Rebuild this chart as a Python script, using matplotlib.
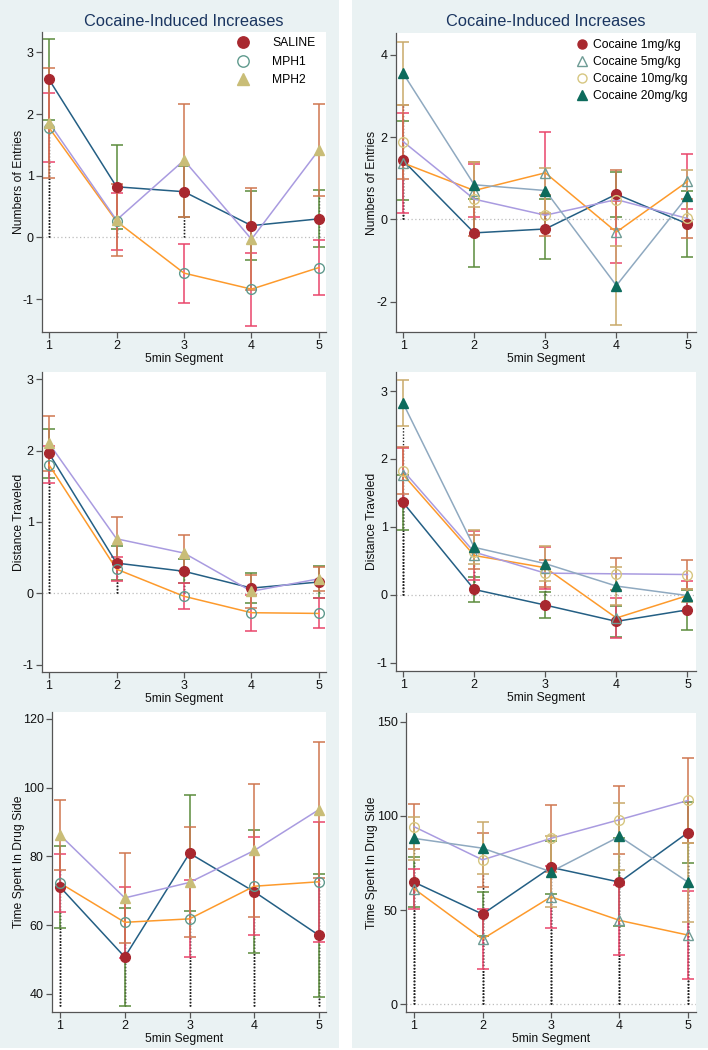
import matplotlib
matplotlib.use("Agg")
import matplotlib.pyplot as plt
from matplotlib.lines import Line2D
from matplotlib.patches import Rectangle

plt.rcParams["font.family"] = ["Liberation Sans", "DejaVu Sans"]
plt.rcParams["axes.unicode_minus"] = False

# ---------------- data ----------------
segments = [1, 2, 3, 4, 5]

# left column: SALINE / MPH1 / MPH2  (mean, half width of error bar)
entries_saline = [2.56, 0.82, 0.74, 0.19, 0.30]
entries_saline_ci = [0.65, 0.68, 0.41, 0.56, 0.46]
entries_mph1 = [1.78, 0.26, -0.58, -0.84, -0.49]
entries_mph1_ci = [0.56, 0.46, 0.48, 0.59, 0.45]
entries_mph2 = [1.86, 0.28, 1.25, -0.03, 1.42]
entries_mph2_ci = [0.89, 0.58, 0.92, 0.83, 0.75]

distance_saline = [1.96, 0.425, 0.31, 0.075, 0.16]
distance_saline_ci = [0.34, 0.24, 0.17, 0.215, 0.22]
distance_mph1 = [1.80, 0.34, -0.04, -0.27, -0.28]
distance_mph1_ci = [0.26, 0.17, 0.18, 0.25, 0.21]
distance_mph2 = [2.10, 0.765, 0.565, 0.03, 0.205]
distance_mph2_ci = [0.39, 0.31, 0.25, 0.23, 0.17]

time_saline = [71.1, 50.7, 80.9, 69.7, 57.0]
time_saline_ci = [12.0, 14.2, 16.9, 17.9, 18.0]
time_mph1 = [72.2, 60.8, 61.8, 71.3, 72.6]
time_mph1_ci = [8.4, 10.4, 11.2, 14.3, 17.5]
time_mph2 = [86.2, 67.9, 72.4, 81.7, 93.6]
time_mph2_ci = [10.2, 13.1, 16.0, 19.4, 19.8]

# right column: cocaine doses
entries_c1 = [1.43, -0.33, -0.235, 0.61, -0.11]
entries_c1_ci = [0.95, 0.82, 0.72, 0.55, 0.81]
entries_c5 = [1.37, 0.70, 1.13, -0.31, 0.92]
entries_c5_ci = [1.21, 0.65, 0.99, 0.75, 0.67]
entries_c10 = [1.89, 0.49, 0.10, 0.48, 0.02]
entries_c10_ci = [0.90, 0.90, 0.50, 0.72, 0.47]
entries_c20 = [3.55, 0.84, 0.70, -1.61, 0.56]
entries_c20_ci = [0.77, 0.55, 0.55, 0.95, 0.63]

distance_c1 = [1.36, 0.08, -0.15, -0.39, -0.22]
distance_c1_ci = [0.40, 0.19, 0.19, 0.23, 0.29]
distance_c5 = [1.77, 0.58, 0.40, -0.34, -0.01]
distance_c5_ci = [0.39, 0.36, 0.31, 0.29, 0.22]
distance_c10 = [1.83, 0.63, 0.32, 0.31, 0.30]
distance_c10_ci = [0.34, 0.25, 0.20, 0.24, 0.21]
distance_c20 = [2.82, 0.70, 0.46, 0.13, -0.01]
distance_c20_ci = [0.34, 0.25, 0.26, 0.28, 0.10]

time_c1 = [64.9, 47.9, 72.7, 64.9, 91.2]
time_c1_ci = [13.4, 11.7, 14.0, 23.5, 16.2]
time_c5 = [61.4, 34.7, 57.1, 44.6, 36.8]
time_c5_ci = [10.6, 15.8, 16.6, 18.6, 23.2]
time_c10 = [94.3, 76.7, 88.1, 98.0, 108.2]
time_c10_ci = [12.0, 14.5, 17.9, 18.0, 22.5]
time_c20 = [88.1, 82.9, 70.4, 89.1, 64.9]
time_c20_ci = [11.5, 13.7, 18.7, 17.9, 20.9]

left_labels = ["SALINE", "MPH1", "MPH2"]
right_labels = ["Cocaine 1mg/kg", "Cocaine 5mg/kg", "Cocaine 10mg/kg", "Cocaine 20mg/kg"]
drop_base_left = [0, 0, 36.5]
drop_base_right = [0, 0, 0]

# ---------------- styles ----------------
BG = "#eaf2f3"
TITLE_C = "#1a3560"
AX_C = "#555555"
line_colors = ["#245f84", "#fd9a2c", "#a99be0", "#8fa9c0"]
err_colors = ["#5b8b3c", "#e9456b", "#cf7650", "#c9a96a"]
left_markers = [
    dict(marker="o", ms=7, mfc="#a8282f", mec="#a8282f"),
    dict(marker="o", ms=7, mfc="none", mec="#5f9a8d", mew=1.0),
    dict(marker="^", ms=7.5, mfc="#c9bd77", mec="#c9bd77"),
]
right_markers = [
    dict(marker="o", ms=7, mfc="#a8282f", mec="#a8282f"),
    dict(marker="^", ms=7.5, mfc="none", mec="#6e9c95", mew=1.0),
    dict(marker="o", ms=7, mfc="none", mec="#d6c680", mew=1.0),
    dict(marker="^", ms=7.5, mfc="#0d6b5c", mec="#0d6b5c"),
]

W, H = 708, 1050
fig = plt.figure(figsize=(W / 100, H / 100), dpi=100, facecolor="white")
fig.patches.append(Rectangle((0, 2 / H), 339 / W, 1 - 2 / H, transform=fig.transFigure,
                             facecolor=BG, edgecolor="none", zorder=-10))
fig.patches.append(Rectangle((352 / W, 2 / H), 356 / W, 1 - 2 / H, transform=fig.transFigure,
                             facecolor=BG, edgecolor="none", zorder=-10))


def px_axes(x0, y0, x1, y1):
    return fig.add_axes([x0 / W, 1 - y1 / H, (x1 - x0) / W, (y1 - y0) / H])


def draw_panel(ax, groups, markers, base, xlim, ylim, yticks):
    ax.set_facecolor("white")
    ax.axhline(0, color="#bdbdbd", lw=0.9, ls=(0, (1, 2)), zorder=1)
    # black dotted spikes from the base up to each lower error limit
    for i, (mean, ci) in enumerate(groups):
        lower = [m - c for m, c in zip(mean, ci)]
        for x, lo in zip(segments, lower):
            if lo > base:
                ax.vlines(x, base, lo, colors="#222222", linestyles=(0, (1, 1.3)), lw=1.0, zorder=2)
    for i, (mean, ci) in enumerate(groups):
        ax.errorbar(segments, mean, yerr=ci, fmt="none", ecolor=err_colors[i],
                    elinewidth=1.1, capsize=4.5, capthick=1.1, zorder=3)
    for i, (mean, ci) in enumerate(groups):
        ax.plot(segments, mean, color=line_colors[i], lw=1.1, zorder=4)
    for i, (mean, ci) in enumerate(groups):
        ax.plot(segments, mean, ls="none", zorder=5, **markers[i])
    ax.set_xlim(*xlim)
    ax.set_ylim(*ylim)
    ax.set_xticks(segments)
    ax.set_yticks(yticks)
    for s in ["top", "right"]:
        ax.spines[s].set_visible(False)
    for s in ["left", "bottom"]:
        ax.spines[s].set_color(AX_C)
        ax.spines[s].set_linewidth(0.9)
    ax.tick_params(direction="out", length=4, width=0.9, color=AX_C,
                   labelsize=9, pad=2, labelcolor="#111111")


left_panels = [
    ([(entries_saline, entries_saline_ci), (entries_mph1, entries_mph1_ci), (entries_mph2, entries_mph2_ci)],
     (42, 32, 326, 332), (0.896, 5.104), (-1.535, 3.33), [-1, 0, 1, 2, 3], "Numbers of Entries", 184),
    ([(distance_saline, distance_saline_ci), (distance_mph1, distance_mph1_ci), (distance_mph2, distance_mph2_ci)],
     (42, 372, 326, 672), (0.896, 5.104), (-1.10, 3.10), [-1, 0, 1, 2, 3], "Distance Traveled", 184),
    ([(time_saline, time_saline_ci), (time_mph1, time_mph1_ci), (time_mph2, time_mph2_ci)],
     (52, 712, 326, 1012), (0.876, 5.108), (34.7, 122.0), [40, 60, 80, 100, 120], "Time Spent In Drug Side", 184),
]
right_panels = [
    ([(entries_c1, entries_c1_ci), (entries_c5, entries_c5_ci), (entries_c10, entries_c10_ci), (entries_c20, entries_c20_ci)],
     (396, 33, 696, 332), (0.90, 5.12), (-2.74, 4.53), [-2, 0, 2, 4], "Numbers of Entries", 546),
    ([(distance_c1, distance_c1_ci), (distance_c5, distance_c5_ci), (distance_c10, distance_c10_ci), (distance_c20, distance_c20_ci)],
     (396, 372, 696, 671), (0.90, 5.12), (-1.12, 3.28), [-1, 0, 1, 2, 3], "Distance Traveled", 546),
    ([(time_c1, time_c1_ci), (time_c5, time_c5_ci), (time_c10, time_c10_ci), (time_c20, time_c20_ci)],
     (406, 713, 696, 1012), (0.883, 5.117), (-4.0, 154.6), [0, 50, 100, 150], "Time Spent In Drug Side", 551),
]

axes = []
for col, (panels, markers, bases, ylab_x) in enumerate([(left_panels, left_markers, drop_base_left, 19.5),
                                                         (right_panels, right_markers, drop_base_right, 372)]):
    for row, (groups, box, xlim, ylim, yticks, ylabel, xlab_x) in enumerate(panels):
        ax = px_axes(*box)
        draw_panel(ax, groups, markers, bases[row], xlim, ylim, yticks)
        fig.text(ylab_x / W, 1 - (box[1] + box[3]) / 2 / H, ylabel, rotation=90,
                 ha="center", va="center", fontsize=8.7, color="#111111")
        fig.text(xlab_x / W, 1 - (box[3] + 27) / H, "5min Segment",
                 ha="center", va="center", fontsize=8.7, color="#111111")
        axes.append(ax)

fig.text(184 / W, 1 - 21 / H, "Cocaine-Induced Increases", ha="center", va="center",
         fontsize=11.8, color=TITLE_C)
fig.text(546 / W, 1 - 22 / H, "Cocaine-Induced Increases", ha="center", va="center",
         fontsize=11.8, color=TITLE_C)

# legends
h_left = [Line2D([], [], ls="none", **dict(left_markers[i], ms=left_markers[i]["ms"] + 1.2)) for i in range(3)]
axes[0].legend(h_left, left_labels, loc="upper left", bbox_to_anchor=(0.683, 0.983), frameon=False,
               fontsize=8.7, handlelength=1.2, handletextpad=1.8, labelspacing=0.55,
               borderpad=0, borderaxespad=0)
h_right = [Line2D([], [], ls="none", **dict(right_markers[i], ms=right_markers[i]["ms"] - 0.5)) for i in range(4)]
axes[3].legend(h_right, right_labels, loc="upper left", bbox_to_anchor=(0.603, 0.98), frameon=False,
               fontsize=8.7, handlelength=0.8, handletextpad=0.55, labelspacing=0.42,
               borderpad=0, borderaxespad=0)

fig.savefig("out.png", dpi=100, facecolor="white")
